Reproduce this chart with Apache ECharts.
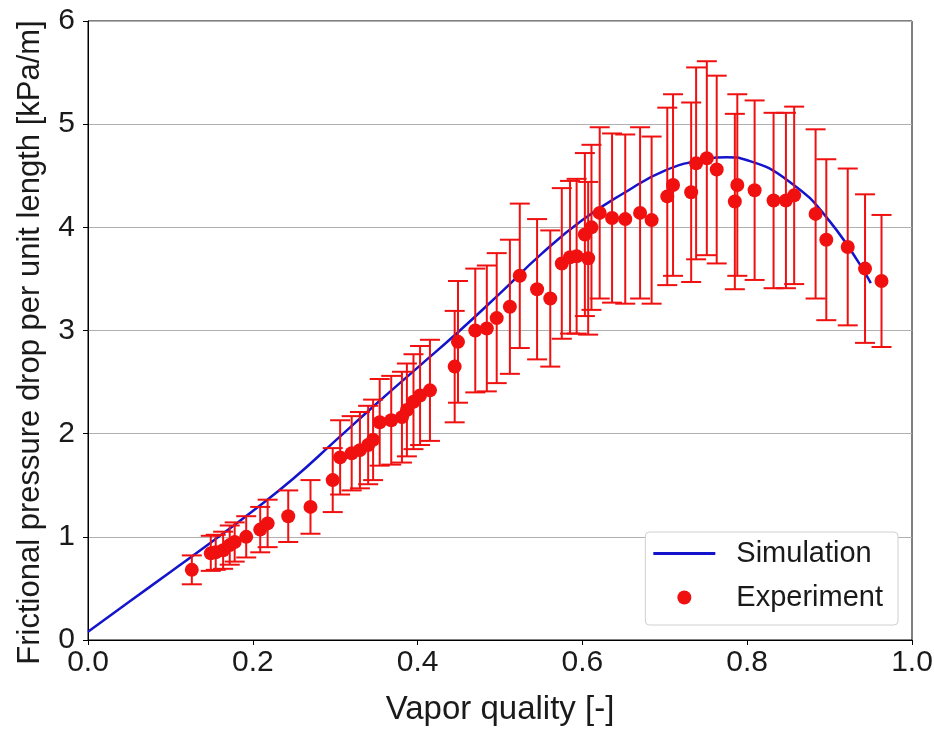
<!DOCTYPE html>
<html lang="en">
	<head>
		<meta charset="UTF-8">
		<title>Frictional pressure drop</title>
		<style>
			html, body { margin: 0; padding: 0; background: #fff; }
		</style>
	</head>

	<body>
		<div id="main" style="width: 934px;height:730px;"></div>

		<script type="text/javascript" src="https://cdn.jsdelivr.net/npm/echarts@6/dist/echarts.min.js"></script>
		<script type="text/javascript">
			// simulation curve
			var simX = [0, 0.05, 0.1, 0.15, 0.2, 0.25, 0.3, 0.35, 0.4, 0.45, 0.5, 0.55, 0.6, 0.65, 0.7, 0.75, 0.775, 0.8, 0.85, 0.9, 0.95];
			var simY = [0.08, 0.37, 0.66, 0.95, 1.25, 1.57, 1.93, 2.29, 2.64, 2.99, 3.36, 3.74, 4.07, 4.33, 4.55, 4.66, 4.68, 4.65, 4.45, 4.06, 3.46];

			// experiment points
			var expX = [0.126, 0.149, 0.155, 0.164, 0.172, 0.178, 0.192, 0.209, 0.218, 0.243, 0.270,
				0.297, 0.306, 0.320, 0.330, 0.340, 0.346, 0.354, 0.368, 0.381, 0.387, 0.395, 0.403, 0.415,
				0.445, 0.449, 0.470, 0.484, 0.496, 0.512, 0.524, 0.545, 0.561, 0.575, 0.585, 0.593, 0.607,
				0.603, 0.611, 0.621, 0.636, 0.652, 0.670, 0.684, 0.703, 0.710, 0.732, 0.738, 0.751, 0.763,
				0.785, 0.788, 0.809, 0.832, 0.847, 0.857, 0.883, 0.896, 0.922, 0.943, 0.963];
			var expY = [0.68, 0.84, 0.85, 0.87, 0.92, 0.95, 1.00, 1.07, 1.13, 1.20, 1.29,
				1.55, 1.77, 1.81, 1.84, 1.89, 1.94, 2.11, 2.13, 2.16, 2.23, 2.31, 2.37, 2.42,
				2.65, 2.89, 3.00, 3.02, 3.12, 3.23, 3.53, 3.40, 3.31, 3.65, 3.71, 3.72, 3.70,
				3.93, 4.00, 4.14, 4.09, 4.08, 4.14, 4.07, 4.30, 4.41, 4.34, 4.62, 4.67, 4.56,
				4.25, 4.41, 4.36, 4.26, 4.26, 4.31, 4.13, 3.88, 3.81, 3.60, 3.48];
			// half length of error bars
			var expErr = [0.14, 0.17, 0.17, 0.18, 0.19, 0.19, 0.20, 0.22, 0.23, 0.25, 0.26,
				0.31, 0.36, 0.36, 0.37, 0.38, 0.39, 0.42, 0.43, 0.44, 0.45, 0.46, 0.48, 0.49,
				0.54, 0.59, 0.60, 0.61, 0.63, 0.65, 0.70, 0.68, 0.66, 0.73, 0.74, 0.75, 0.74,
				0.79, 0.80, 0.83, 0.82, 0.82, 0.83, 0.81, 0.86, 0.88, 0.87, 0.93, 0.94, 0.91,
				0.85, 0.88, 0.87, 0.85, 0.85, 0.86, 0.82, 0.78, 0.76, 0.72, 0.64];

			var simData = simX.map(function (x, i) { return [x, simY[i]]; });
			var expData = expX.map(function (x, i) { return [x, expY[i]]; });
			var errData = expX.map(function (x, i) { return [x, expY[i] - expErr[i], expY[i] + expErr[i]]; });

			var myChart = echarts.init(document.getElementById('main'));

			var font = 'Arial, "Liberation Sans", sans-serif';
			var red = '#f01010';
			var blue = '#1414cc';

			var option = {
				backgroundColor: '#fff',
				animation: false,
				textStyle: { fontFamily: font },
				grid: {
					left: 88,
					right: 22,
					top: 21,
					bottom: 90,
					containLabel: false,
					outerBoundsMode: 'none',
					show: true,
					borderColor: '#000',
					borderWidth: 1
				},
				xAxis: {
					type: 'value',
					min: 0,
					max: 1,
					interval: 0.2,
					name: 'Vapor quality [-]',
					nameLocation: 'middle',
					nameGap: 53,
					nameTextStyle: { fontSize: 33, color: '#1a1a1a', fontFamily: font },
					axisLine: { show: true, lineStyle: { color: '#000' } },
					axisTick: { show: true, inside: false, length: 5, lineStyle: { color: '#000' } },
					axisLabel: {
						fontSize: 30, color: '#1a1a1a', margin: 8,
						formatter: function (v) { return v.toFixed(1); }
					},
					splitLine: { show: false }
				},
				yAxis: {
					type: 'value',
					min: 0,
					max: 6,
					interval: 1,
					name: 'Frictional pressure drop per unit length [kPa/m]',
					nameLocation: 'middle',
					nameGap: 42,
					nameTextStyle: { fontSize: 31, color: '#1a1a1a', fontFamily: font, padding: [0, 24, 0, 0] },
					axisLine: { show: true, lineStyle: { color: '#000' } },
					axisTick: { show: true, inside: false, length: 5, lineStyle: { color: '#000' } },
					axisLabel: { fontSize: 30, color: '#1a1a1a', margin: 13 },
					splitLine: { show: true, lineStyle: { color: '#b0b0b0', width: 1 } }
				},
				legend: {
					orient: 'vertical',
					right: 36,
					bottom: 105,
					padding: [7, 15, 13, 8],
					itemGap: 15,
					itemWidth: 62,
					itemHeight: 14,
					backgroundColor: '#fff',
					borderColor: '#d0d0d0',
					borderWidth: 1,
					borderRadius: 4,
					textStyle: { fontSize: 29, color: '#1a1a1a', padding: [0, 0, 0, 16] },
					data: [
						{ name: 'Simulation', icon: 'path://M0,6 L62,6 L62,9 L0,9 Z' },
						{ name: 'Experiment', icon: 'circle' }
					]
				},
				series: [
					{
						name: 'Simulation',
						type: 'line',
						data: simData,
						smooth: true,
						symbol: 'none',
						z: 2,
						lineStyle: { color: blue, width: 2.5 },
						itemStyle: { color: blue }
					},
					{
						name: 'errorbars',
						type: 'custom',
						data: errData,
						z: 3,
						encode: { x: 0, y: [1, 2] },
						renderItem: function (params, api) {
							var x = api.value(0);
							var lo = api.coord([x, api.value(1)]);
							var hi = api.coord([x, api.value(2)]);
							var cap = 10;
							var style = { stroke: red, lineWidth: 2 };
							return {
								type: 'group',
								children: [
									{ type: 'line', shape: { x1: lo[0], y1: lo[1], x2: hi[0], y2: hi[1] }, style: style },
									{ type: 'line', shape: { x1: lo[0] - cap, y1: lo[1], x2: lo[0] + cap, y2: lo[1] }, style: style },
									{ type: 'line', shape: { x1: hi[0] - cap, y1: hi[1], x2: hi[0] + cap, y2: hi[1] }, style: style }
								]
							};
						}
					},
					{
						name: 'Experiment',
						type: 'scatter',
						data: expData,
						symbol: 'circle',
						symbolSize: 14,
						z: 4,
						itemStyle: { color: red, opacity: 1 }
					}
				]
			};

			myChart.setOption(option);
		</script>
	</body>
</html>
